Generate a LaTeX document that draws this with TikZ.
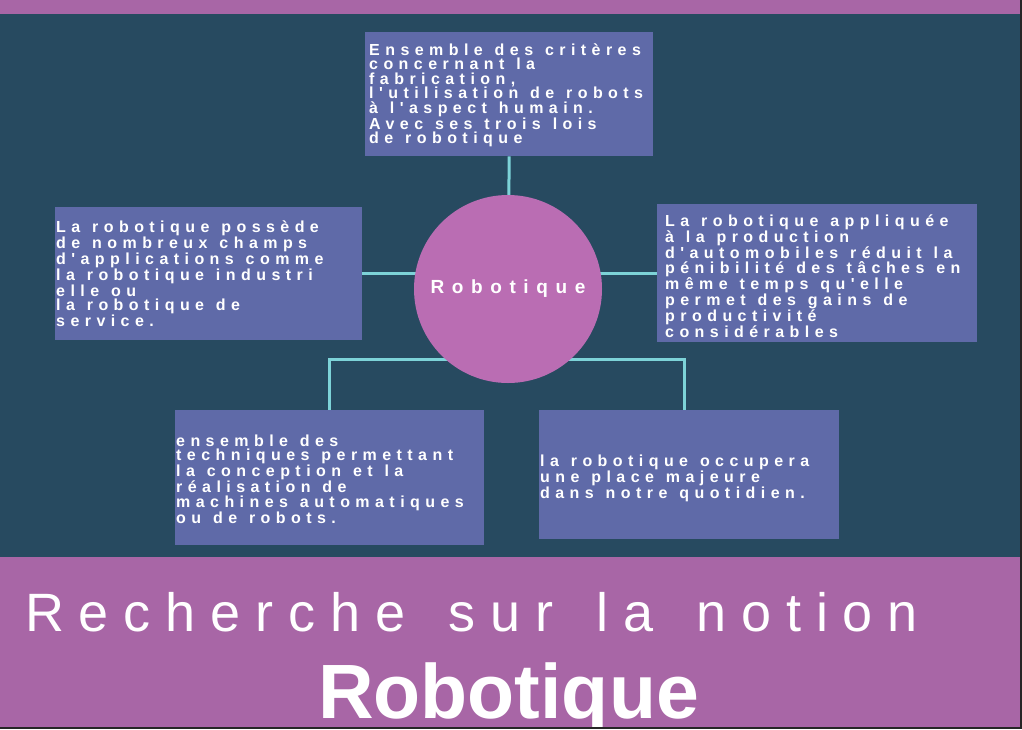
\documentclass[tikz,border=0pt]{standalone}
\usepackage{fontspec}
\setmainfont{Liberation Sans}
\newfontfamily\boxfont[LetterSpace=34,WordSpace=1.2]{Liberation Sans}
\newfontfamily\hubfont[LetterSpace=40]{Liberation Sans}
\newfontfamily\titlefont[LetterSpace=27.5,WordSpace=1.45]{Liberation Sans}
\usetikzlibrary{positioning,calc}

\definecolor{bgteal}{HTML}{274A60}
\definecolor{bandpurple}{HTML}{A866A6}
\definecolor{boxblue}{HTML}{5F6AA8}
\definecolor{hubpink}{HTML}{BA6DB3}
\definecolor{linkcyan}{HTML}{7DD3D8}

\tikzset{
  box/.style={fill=boxblue, inner sep=0pt, anchor=north west},
  boxtext/.style={text=white, align=left, inner sep=0pt, anchor=north west,
    font=\boxfont\bfseries\fontsize{16}{14.5}\selectfont},
  link/.style={draw=linkcyan, line width=3pt},
  hubnode/.style={circle, fill=hubpink, minimum size=188pt, inner sep=0pt,
    text=white, font=\hubfont\bfseries\fontsize{19}{20}\selectfont},
}

\begin{document}
\begin{tikzpicture}[x=1pt,y=-1pt]

\useasboundingbox (0,0) rectangle (1022,729);
\fill[bandpurple] (0,0) rectangle (1022,729);
\fill[bgteal] (0,14) rectangle (1022,557);

% boxes
\node[box, minimum width=288pt, minimum height=124pt] (crit) at (365,32) {};
\node[box, minimum width=307pt, minimum height=133pt] (champs) at (55,207) {};
\node[box, minimum width=320pt, minimum height=138pt] (auto) at (657,204) {};
\node[box, minimum width=309pt, minimum height=135pt] (techn) at (175,410) {};
\node[box, minimum width=300pt, minimum height=129pt] (quot) at (539,410) {};

\node[boxtext] (crittxt) at ([shift={(4,11.5)}]crit.north west) {Ensemble des critères\\concernant la\\fabrication,\\l'utilisation de robots\\à l'aspect humain.\\Avec ses trois lois\\de robotique};
\node[boxtext] (champstxt) at ([shift={(1,13.5)}]champs.north west) {La robotique possède\\de nombreux champs\\d'applications comme\\la robotique industri\\elle ou\\la robotique de\\service.};
\node[boxtext] (autotxt) at ([shift={(8,10.5)}]auto.north west) {La robotique appliquée\\à la production\\d'automobiles réduit la\\pénibilité des tâches en\\même temps qu'elle\\permet des gains de\\productivité\\considérables};
\node[boxtext] (techntxt) at ([shift={(1,24.5)}]techn.north west) {ensemble des\\techniques permettant\\la conception et la\\réalisation de\\machines automatiques\\ou de robots.};
\node[boxtext] (quottxt) at ([shift={(1,44.5)}]quot.north west) {la robotique occupera\\une place majeure\\dans notre quotidien.};

% connectors
\coordinate (hub) at (508,289);
\draw[link] (crit.south) -- (hub);
\draw[link] (champs.east) -- (champs.east -| hub);
\draw[link] (auto.west) -- (auto.west -| hub);
\draw[link] (techn.north) -- ++(0,-51) -| ([xshift=-5pt]quot.north);

\node[hubnode] (rob) at (hub) {Robotique};

% title
\node[text=white, inner sep=0pt, anchor=base west,
  font=\titlefont\fontsize{54}{60}\selectfont] (rech) at (25,631) {Recherche sur la notion};
\node[text=white, inner sep=0pt, anchor=base west,
  font=\bfseries\fontsize{77}{80}\selectfont] (titre) at (318,718) {Robotique};

\fill[black!85] (1020,0) rectangle (1022,729);
\fill[black!85] (0,727) rectangle (1022,729);

\end{tikzpicture}
\end{document}
